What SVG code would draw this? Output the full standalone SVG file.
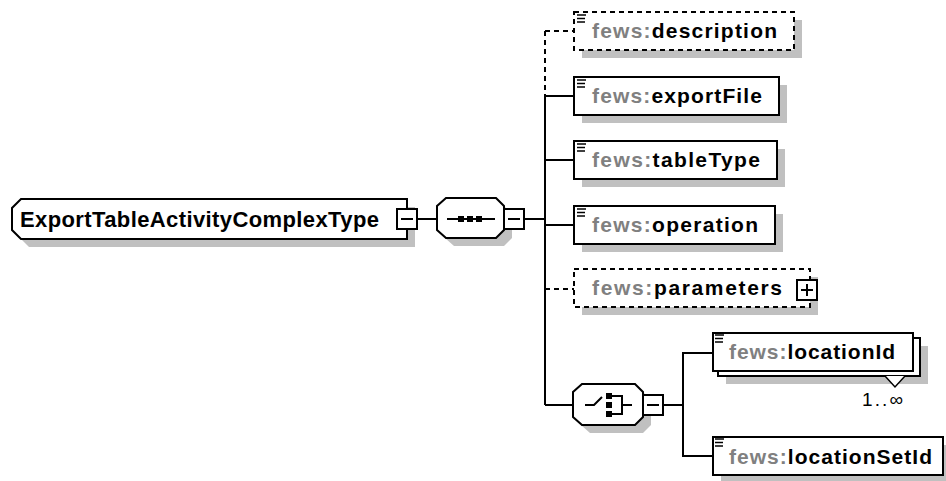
<svg xmlns="http://www.w3.org/2000/svg" width="946" height="481" viewBox="0 0 946 481">
<defs>
<style>
.bg{fill:#ffffff}
.box{fill:#ffffff;stroke:#000000;stroke-width:2}
.dbox{fill:#ffffff;stroke:#000000;stroke-width:2;stroke-dasharray:5,4}
.sh{fill:#c0c0c0}
.ln{fill:none;stroke:#000000;stroke-width:2}
.dln{fill:none;stroke:#000000;stroke-width:2;stroke-dasharray:5,4}
.ic{fill:none;stroke:#000000;stroke-width:1.5}
.t{font-family:"Liberation Sans",Arial,sans-serif;font-weight:bold;font-size:21px;fill:#000000}
.pre{fill:#808080}
.ct{font-family:"Liberation Sans",Arial,sans-serif;font-weight:bold;font-size:22px;fill:#000000}
.occ{font-family:"Liberation Sans",Arial,sans-serif;font-size:19px;fill:#000000}
</style>
</defs>
<rect class="bg" x="0" y="0" width="946" height="481"/>

<g id="connectors">
<line class="ln" x1="417" y1="219" x2="437" y2="219"/>
<line class="ln" x1="525" y1="219" x2="545" y2="219"/>
<line class="dln" x1="545" y1="31" x2="545" y2="96"/>
<line class="ln" x1="545" y1="96" x2="545" y2="405"/>
<line class="dln" x1="545" y1="31" x2="574" y2="31"/>
<line class="ln" x1="545" y1="96" x2="574" y2="96"/>
<line class="ln" x1="545" y1="160" x2="574" y2="160"/>
<line class="ln" x1="545" y1="225" x2="574" y2="225"/>
<line class="dln" x1="545" y1="289" x2="574" y2="289"/>
<line class="ln" x1="545" y1="405" x2="573" y2="405"/>
<line class="ln" x1="663" y1="405" x2="683" y2="405"/>
<polyline class="ln" points="713,353 683,353 683,456 713,456"/>
</g>

<g id="complexType">
<path class="sh" d="M29,207 H415 V247 H29 L20,238 V216 Z"/>
<path class="box" d="M21,199 H407 V239 H21 L12,230 V208 Z"/>
<text class="ct" x="20" y="227" textLength="359" lengthAdjust="spacing">ExportTableActivityComplexType</text>
<rect class="box" x="397" y="209" width="20" height="20"/>
<line class="ln" x1="401" y1="219" x2="413" y2="219"/>
</g>

<g id="sequence">
<path class="sh" d="M454,206 H504 L512,214 V238 L504,246 H454 L445,238 V214 Z"/>
<path class="box" d="M446,198 H496 L504,206 V230 L496,238 H446 L437,230 V206 Z"/>
<line class="ln" x1="447" y1="219" x2="495" y2="219"/>
<rect x="458" y="216" width="6" height="6" fill="#000"/>
<rect x="467" y="216" width="6" height="6" fill="#000"/>
<rect x="476" y="216" width="6" height="6" fill="#000"/>
<rect class="box" x="504" y="209" width="20" height="20"/>
<line class="ln" x1="508" y1="219" x2="520" y2="219"/>
</g>

<g id="description">
<rect class="sh" x="582" y="20" width="220" height="38"/>
<rect class="dbox" x="574" y="12" width="220" height="38"/>
<g class="ic"><line x1="577" y1="15" x2="586" y2="15"/><line x1="577" y1="18.5" x2="585" y2="18.5"/><line x1="577" y1="22" x2="585" y2="22"/></g>
<text class="t" x="592" y="38" textLength="185" lengthAdjust="spacing"><tspan class="pre">fews:</tspan>description</text>
</g>

<g id="exportFile">
<rect class="sh" x="582" y="85" width="205" height="38"/>
<rect class="box" x="574" y="77" width="205" height="38"/>
<g class="ic"><line x1="577" y1="80" x2="586" y2="80"/><line x1="577" y1="83.5" x2="585" y2="83.5"/><line x1="577" y1="87" x2="585" y2="87"/></g>
<text class="t" x="592" y="103" textLength="170" lengthAdjust="spacing"><tspan class="pre">fews:</tspan>exportFile</text>
</g>

<g id="tableType">
<rect class="sh" x="582" y="149" width="203" height="38"/>
<rect class="box" x="574" y="141" width="203" height="38"/>
<g class="ic"><line x1="577" y1="144" x2="586" y2="144"/><line x1="577" y1="147.5" x2="585" y2="147.5"/><line x1="577" y1="151" x2="585" y2="151"/></g>
<text class="t" x="592" y="167" textLength="168" lengthAdjust="spacing"><tspan class="pre">fews:</tspan>tableType</text>
</g>

<g id="operation">
<rect class="sh" x="582" y="214" width="201" height="38"/>
<rect class="box" x="574" y="206" width="201" height="38"/>
<g class="ic"><line x1="577" y1="209" x2="586" y2="209"/><line x1="577" y1="212.5" x2="585" y2="212.5"/><line x1="577" y1="216" x2="585" y2="216"/></g>
<text class="t" x="592" y="232" textLength="166" lengthAdjust="spacing"><tspan class="pre">fews:</tspan>operation</text>
</g>

<g id="parameters">
<rect class="sh" x="582" y="277" width="236" height="38"/>
<rect class="dbox" x="574" y="269" width="236" height="38"/>
<text class="t" x="592" y="295" textLength="190" lengthAdjust="spacing"><tspan class="pre">fews:</tspan>parameters</text>
<rect class="box" x="797" y="280" width="20" height="20"/>
<line class="ln" x1="801" y1="290" x2="813" y2="290"/>
<line class="ln" x1="807" y1="284" x2="807" y2="296"/>
</g>

<g id="choice">
<path class="sh" d="M590,392 H643 L651,400 V425 L643,433 H590 L581,425 V400 Z"/>
<path class="box" d="M582,384 H635 L643,392 V417 L635,425 H582 L573,417 V392 Z"/>
<polyline class="ln" points="585,405 594,405 602,397"/>
<rect x="606" y="393" width="6" height="6" fill="#000"/>
<rect x="606" y="402" width="6" height="6" fill="#000"/>
<rect x="606" y="411" width="6" height="6" fill="#000"/>
<polyline class="ln" points="612,396 622,396 622,414 612,414"/>
<line class="ln" x1="622" y1="405" x2="632" y2="405"/>
<rect class="box" x="643" y="395" width="20" height="20"/>
<line class="ln" x1="647" y1="405" x2="659" y2="405"/>
</g>

<g id="locationId">
<rect class="sh" x="726" y="346" width="202" height="38"/>
<rect class="box" x="718" y="338" width="202" height="38"/>
<rect class="box" x="713" y="333" width="200" height="38"/>
<polyline points="885,376 895,387 905,376" fill="#ffffff" stroke="#000" stroke-width="1.5"/>
<g class="ic"><line x1="715" y1="335" x2="724" y2="335"/><line x1="715" y1="338.5" x2="723" y2="338.5"/><line x1="715" y1="342" x2="723" y2="342"/></g>
<text class="t" x="729" y="359" textLength="166" lengthAdjust="spacing"><tspan class="pre">fews:</tspan>locationId</text>
<text class="occ" x="862" y="406" textLength="41" lengthAdjust="spacing">1..∞</text>
</g>

<g id="locationSetId">
<rect class="sh" x="721" y="445" width="230" height="38"/>
<rect class="box" x="713" y="437" width="230" height="38"/>
<g class="ic"><line x1="715" y1="439" x2="724" y2="439"/><line x1="715" y1="442.5" x2="723" y2="442.5"/><line x1="715" y1="446" x2="723" y2="446"/></g>
<text class="t" x="729" y="464" textLength="203" lengthAdjust="spacing"><tspan class="pre">fews:</tspan>locationSetId</text>
</g>
</svg>
